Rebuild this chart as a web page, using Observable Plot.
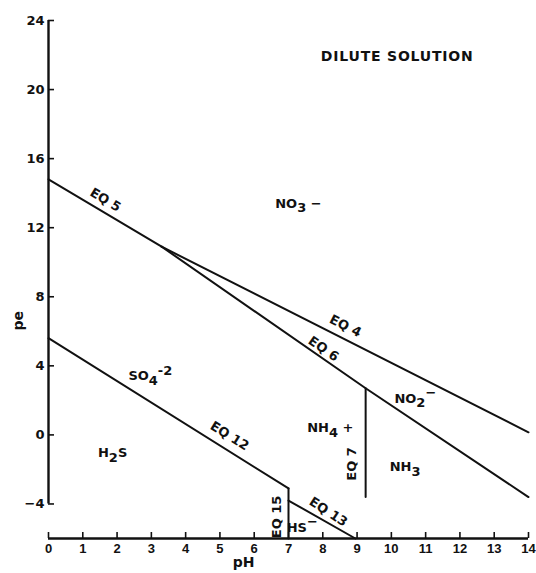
<!DOCTYPE html>
<html><head><meta charset="utf-8">
<script src="https://cdn.jsdelivr.net/npm/d3@7"></script>
<script src="https://cdn.jsdelivr.net/npm/@observablehq/plot@0.6"></script>
<style>body{margin:0;background:#fff} .title-text{letter-spacing:0.8px}</style>
</head><body><div id="chart"></div>
<script>
// ---- data ----
const phTicks = [0,1,2,3,4,5,6,7,8,9,10,11,12,13,14];
const peTicks = [-4,0,4,8,12,16,20,24];

const eq5PH = [0, 3.3],        eq5PE = [14.8, 10.9];
const eq4PH = [3.3, 14],       eq4PE = [10.9, 0.15];
const eq6PH = [3.3, 9.25, 14], eq6PE = [10.9, 2.7, -3.6];
const eq7PH = [9.25, 9.25],    eq7PE = [2.7, -3.6];
const eq12PH = [0, 7],         eq12PE = [5.6, -3.1];
const eq15PH = [7, 7],         eq15PE = [-3.1, -6];
const eq13PH = [7, 8.95],      eq13PE = [-3.8, -6];

const speciesText = ["NO_3 −", "SO_4^-2", "H_2S", "NH_4 +", "NO_2^−", "NH_3", "HS^−"];
const speciesPH   = [7.29, 2.97, 1.87, 8.22, 10.7, 10.4, 7.4];
const speciesPE   = [13.4, 3.4, -1.05, 0.4, 2.1, -1.85, -5.4];

const eqText = ["EQ 5", "EQ 4", "EQ 6", "EQ 12", "EQ 13", "EQ 7", "EQ 15"];
const eqPH   = [1.66, 8.66, 8.02, 5.28, 8.16, 8.86, 6.65];
const eqPE   = [13.6, 6.3, 4.98, -0.06, -4.46, -1.68, -4.75];

const titleText = "DILUTE SOLUTION";
const titlePH = 10.17, titlePE = 21.9;

// ---- build ----
const seg = (ph, pe) => ph.map((x, i) => ({ph: x, pe: pe[i]}));
const lineSets = [
  seg(eq5PH, eq5PE), seg(eq4PH, eq4PE), seg(eq6PH, eq6PE), seg(eq7PH, eq7PE),
  seg(eq12PH, eq12PE), seg(eq15PH, eq15PE), seg(eq13PH, eq13PE)
];
const eqRotate = [31, 27, 35, 32, 33, -90, -90];
const font = "DejaVu Sans, Verdana, sans-serif";

const chart = Plot.plot({
  width: 536, height: 573,
  marginLeft: 48, marginRight: 8, marginTop: 20, marginBottom: 35,
  x: {domain: [0, 14]},
  y: {domain: [-6, 24]},
  style: {fontFamily: font, fontSize: "13px", fontWeight: "bold", color: "#111", background: "#fff"},
  marks: [
    // axis lines
    Plot.ruleX([0], {y1: -4, y2: 24, strokeWidth: 2.4, stroke: "#111"}),
    Plot.ruleY([-6], {x1: 0, x2: 14, strokeWidth: 2.4, stroke: "#111"}),
    // inward ticks
    Plot.axisY(peTicks, {anchor: "left", tickSize: 6, dx: 6, tickFormat: () => "", label: null, strokeWidth: 1.6}),
    Plot.axisX(phTicks, {anchor: "bottom", tickSize: 6, dy: -6, tickFormat: () => "", label: null, strokeWidth: 1.6}),
    // tick labels
    Plot.axisY(peTicks, {anchor: "left", tickSize: 0, tickPadding: 4, label: null, fontSize: 13, fontWeight: "bold"}),
    Plot.axisX(phTicks, {anchor: "bottom", tickSize: 0, tickPadding: 5, label: null, fontSize: 13,
      fontWeight: "bold", fontFamily: "Liberation Sans, Arial, sans-serif"}),
    // boundary lines
    ...lineSets.map(d => Plot.line(d, {x: "ph", y: "pe", stroke: "#111", strokeWidth: 2})),
    // equation labels
    ...eqText.map((t, i) => Plot.text([t], {x: () => eqPH[i], y: () => eqPE[i], text: d => d,
      rotate: eqRotate[i], fontSize: 13, fontWeight: "bold"})),
    // species labels
    Plot.text(speciesText, {x: (d, i) => speciesPH[i], y: (d, i) => speciesPE[i], text: d => d,
      fontSize: 13, fontWeight: "bold"}),
    // title
    Plot.text([titleText], {x: () => titlePH, y: () => titlePE, text: d => d, fontSize: 14,
      fontWeight: "bold", className: "title-text"}),
    // axis titles
    Plot.text(["pe"], {frameAnchor: "left", dx: -30, dy: 51, rotate: -90, fontSize: 14, fontWeight: "bold"}),
    Plot.text(["pH"], {frameAnchor: "bottom", dx: -45, dy: 28, fontSize: 14, fontWeight: "bold"})
  ]
});

// subscripts / superscripts
chart.querySelectorAll("text").forEach(t => {
  const s = t.textContent;
  if (!/[_^]/.test(s)) return;
  const parts = s.split(/(_\S|\^\S+)/).filter(p => p !== "");
  t.textContent = "";
  let cur = 0;
  for (const p of parts) {
    let shift = 0, txt = p;
    if (p[0] === "_") { shift = 0.35; txt = p.slice(1); }
    else if (p[0] === "^") { shift = -0.45; txt = p.slice(1); }
    const ts = document.createElementNS("http://www.w3.org/2000/svg", "tspan");
    ts.setAttribute("dy", (shift - cur).toFixed(2) + "em");
    ts.textContent = txt;
    t.appendChild(ts);
    cur = shift;
  }
});

document.getElementById("chart").appendChild(chart);
</script>
</body></html>
